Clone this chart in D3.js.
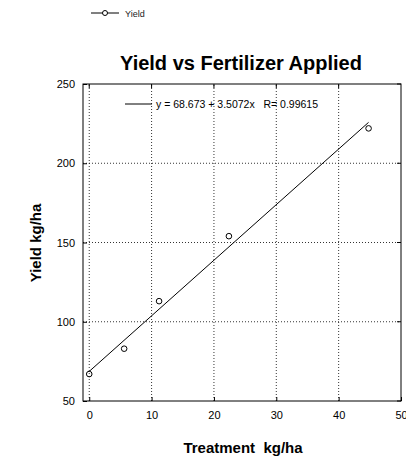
<!DOCTYPE html>
<html><head><meta charset="utf-8">
<script src="https://cdn.jsdelivr.net/npm/d3@7"></script>
<style>body{margin:0;background:#fff;} svg{display:block;font-family:"Liberation Sans",Arial,sans-serif;}</style>
</head><body>
<script>
const treatment = [0, 5.6, 11.2, 22.4, 44.8];
const yieldVals = [67, 83, 113, 154, 222];
const xTicks = [0, 10, 20, 30, 40, 50];
const yTicks = [50, 100, 150, 200, 250];
const fitIntercept = 68.673, fitSlope = 3.5072, fitR = 0.99615;
const title = "Yield vs Fertilizer Applied";
const xTitle = "Treatment  kg/ha";
const yTitle = "Yield kg/ha";
const seriesName = "Yield";

const W = 406, H = 460;
const m = {l: 83, r: 5, t: 84, b: 59};
const FF = "Liberation Sans, Arial, sans-serif";
const svg = d3.select("body").append("svg").attr("width", W).attr("height", H);
const x = d3.scaleLinear().domain([-1, 50]).range([m.l, W - m.r]);
const y = d3.scaleLinear().domain([50, 250]).range([H - m.b, m.t]);

// grid
const g = svg.append("g");
g.selectAll(".vg").data(xTicks.filter(t => t < 50)).enter().append("line")
  .attr("x1", d => x(d)).attr("x2", d => x(d)).attr("y1", y(50)).attr("y2", y(250))
  .attr("stroke", "#000").attr("stroke-width", 0.8).attr("stroke-dasharray", "1,2");
g.selectAll(".hg").data(yTicks.filter(t => t > 50 && t < 250)).enter().append("line")
  .attr("x1", x(-1)).attr("x2", x(50)).attr("y1", d => y(d)).attr("y2", d => y(d))
  .attr("stroke", "#000").attr("stroke-width", 0.8).attr("stroke-dasharray", "1,2");

// frame
svg.append("rect").attr("x", x(-1)).attr("y", y(250)).attr("width", x(50) - x(-1)).attr("height", y(50) - y(250))
  .attr("fill", "none").attr("stroke", "#000").attr("stroke-width", 1);

// axes labels (ticks inward)
const xa = d3.axisBottom(x).tickValues(xTicks).tickSize(-4).tickPadding(10).tickFormat(d3.format("d"));
svg.append("g").attr("transform", `translate(0,${y(50)})`).call(xa)
  .call(s => s.select(".domain").remove())
  .call(s => s.selectAll("text").attr("font-size", 11).attr("font-family", FF));
const ya = d3.axisLeft(y).tickValues(yTicks).tickSize(-4).tickPadding(8).tickFormat(d3.format("d"));
svg.append("g").attr("transform", `translate(${x(-1)},0)`).call(ya)
  .call(s => s.select(".domain").remove())
  .call(s => s.selectAll("text").attr("font-size", 11).attr("font-family", FF));
// top and right inward ticks
svg.append("g").selectAll("line").data(xTicks.filter(t => t < 50)).enter().append("line")
  .attr("x1", d => x(d)).attr("x2", d => x(d)).attr("y1", y(250)).attr("y2", y(250) + 4).attr("stroke", "#000");
svg.append("g").selectAll("line").data(yTicks).enter().append("line")
  .attr("x1", x(50)).attr("x2", x(50) - 4).attr("y1", d => y(d)).attr("y2", d => y(d)).attr("stroke", "#000");

// fit line
const xmin = d3.min(treatment), xmax = d3.max(treatment);
svg.append("line").attr("x1", x(xmin)).attr("y1", y(fitIntercept + fitSlope * xmin))
  .attr("x2", x(xmax)).attr("y2", y(fitIntercept + fitSlope * xmax))
  .attr("stroke", "#000").attr("stroke-width", 1);

// points
svg.append("g").selectAll("circle").data(treatment).enter().append("circle")
  .attr("cx", d => x(d)).attr("cy", (d, i) => y(yieldVals[i])).attr("r", 2.8)
  .attr("fill", "none").attr("stroke", "#000").attr("stroke-width", 1);

// fit legend inside
svg.append("line").attr("x1", 125).attr("x2", 152).attr("y1", 104).attr("y2", 104).attr("stroke", "#000");
svg.append("text").attr("x", 156).attr("y", 108).attr("font-size", 10.5).style("white-space", "pre")
  .text(`y = ${fitIntercept} + ${fitSlope}x   R= ${fitR}`);

// top legend
svg.append("line").attr("x1", 91).attr("x2", 119).attr("y1", 13).attr("y2", 13).attr("stroke", "#000");
svg.append("circle").attr("cx", 105).attr("cy", 13).attr("r", 2.5).attr("fill", "#fff").attr("stroke", "#000");
svg.append("text").attr("x", 125).attr("y", 16.5).attr("font-size", 9).attr("fill", "#222").text(seriesName);

// titles
svg.append("text").attr("x", 241).attr("y", 70).attr("text-anchor", "middle")
  .attr("font-size", 20).attr("font-weight", "bold").text(title);
svg.append("text").attr("x", 243).attr("y", 453).attr("text-anchor", "middle")
  .attr("font-size", 15).attr("font-weight", "bold").style("white-space", "pre").text(xTitle);
svg.append("text").attr("transform", `translate(41,243) rotate(-90)`).attr("text-anchor", "middle")
  .attr("font-size", 15).attr("font-weight", "bold").text(yTitle);
</script>
</body></html>
